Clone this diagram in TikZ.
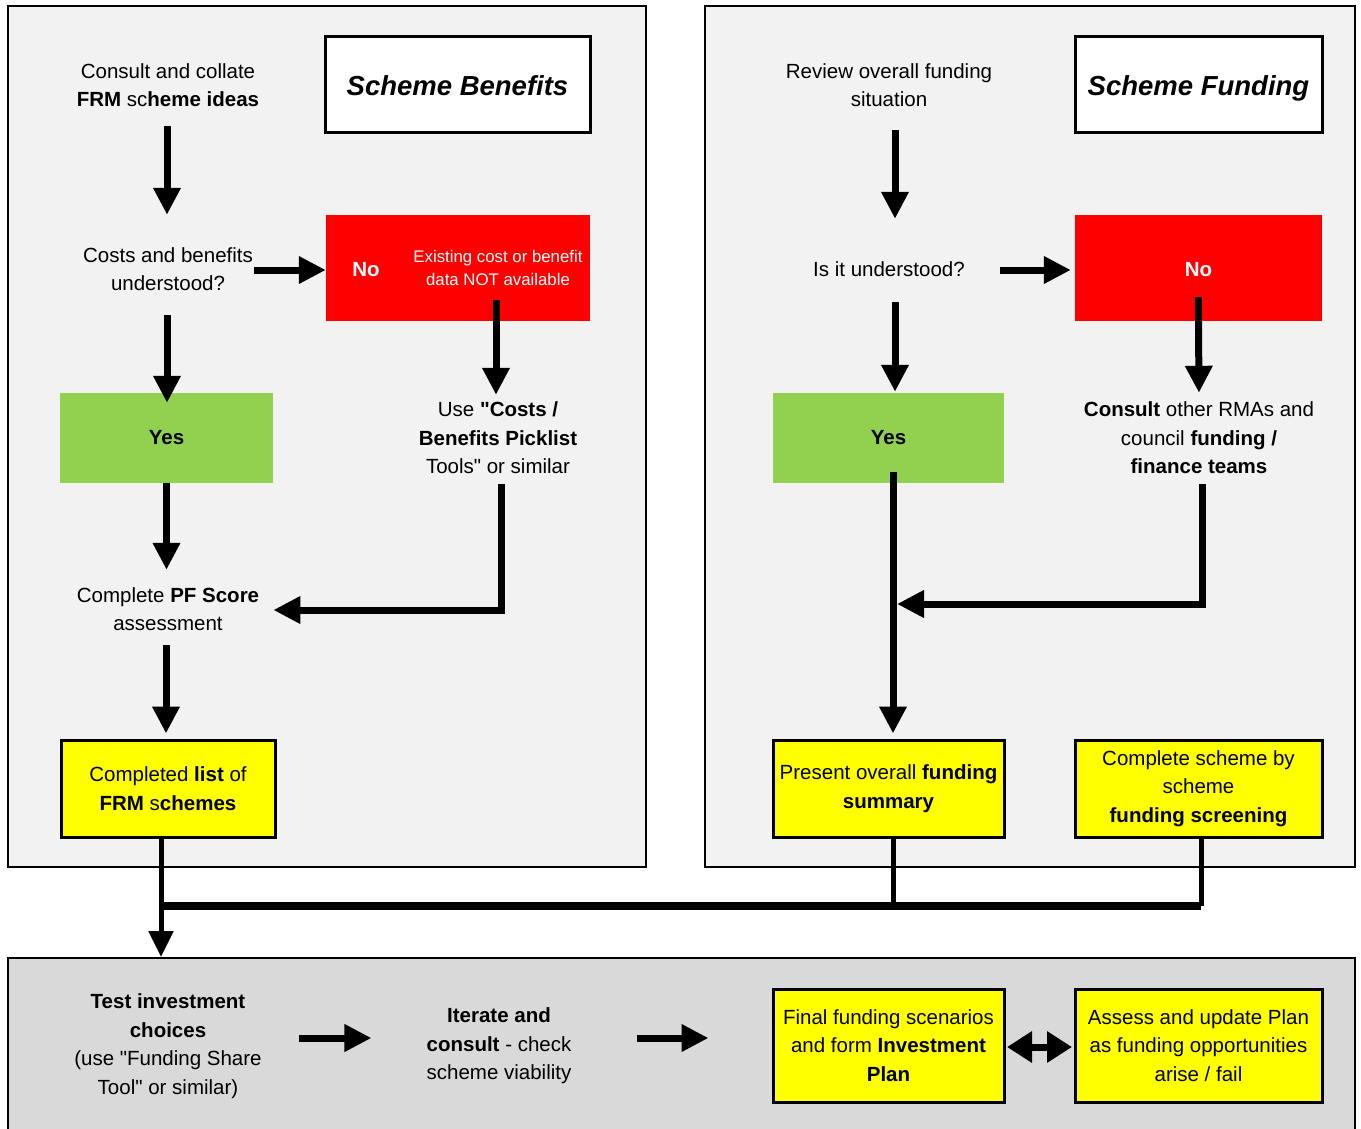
\documentclass[tikz,border=0pt]{standalone}
\usepackage{fontspec}
\setmainfont{Liberation Sans}[Ligatures=TeXOff]
\usetikzlibrary{arrows.meta,calc}
\definecolor{panelA}{HTML}{F2F2F2}
\definecolor{panelB}{HTML}{D9D9D9}
\definecolor{redA}{HTML}{FF0000}
\definecolor{greenA}{HTML}{92D050}
\definecolor{yellowA}{HTML}{FFFF00}
\begin{document}
\begin{tikzpicture}[x=1pt,y=-1pt,
  txt/.style={align=center,font=\fontsize{20.5}{28.5}\selectfont,inner sep=0pt,text=black},
  tone/.style={txt,minimum height=28pt},
  ttwo/.style={txt,minimum height=56pt},
  tthree/.style={txt,minimum height=84pt},
  tfour/.style={txt,minimum height=112pt},
  panelbox/.style={rectangle,draw=black,line width=2pt,inner sep=0pt},
  titlebox/.style={rectangle,draw=black,line width=3pt,fill=white,inner sep=0pt,
     text height=22pt,text depth=0pt,
     font=\fontsize{27.5}{32}\selectfont\bfseries\itshape},
  redbox/.style={rectangle,fill=redA,inner sep=0pt,text=white,
     font=\fontsize{20.5}{28.5}\selectfont\bfseries},
  greenbox/.style={rectangle,fill=greenA,inner sep=0pt,
     font=\fontsize{20.5}{28.5}\selectfont\bfseries},
  yelbox/.style={rectangle,draw=black,line width=3pt,fill=yellowA,inner sep=0pt,
     align=center,font=\fontsize{20.5}{28.5}\selectfont},
  arr/.style={line width=7pt,-{Triangle[length=27pt,width=26pt]}},
  arrthin/.style={line width=5pt,-{Triangle[length=26pt,width=24pt]}},
  darr/.style={line width=7pt,{Triangle[length=25pt,width=30pt]}-{Triangle[length=25pt,width=30pt]}},
  gap/.style 2 args={shorten <=#1,shorten >=#2},
]
\useasboundingbox (0,0) rectangle (1361,1128);
\clip (0,0) rectangle (1361,1128);

% panels
\node[panelbox,fill=panelA,minimum width=638pt,minimum height=861pt] (pL) at (327,436.5) {};
\node[panelbox,fill=panelA,minimum width=650pt,minimum height=861pt] (pR) at (1030,436.5) {};
\node[panelbox,fill=panelB,minimum width=1347pt,minimum height=184pt] (bot) at (681.5,1050) {};

% titles
\node[titlebox,minimum width=265pt,minimum height=96pt] (t1) at (457.5,84) {Scheme Benefits};
\node[titlebox,minimum width=247pt,minimum height=96pt] (t2) at (1198.5,84) {Scheme Funding};

% left panel
\node[ttwo] (c1) at (168,85) {Consult and collate\\\textbf{FRM} sc\textbf{heme ideas}};
\node[ttwo] (q1) at (168,269) {Costs and benefits\\understood?};
\node[redbox,minimum width=264pt,minimum height=106pt] (no1) at (458,268) {};
\node[txt,text=white,font=\fontsize{20.5}{28.5}\selectfont\bfseries] (no1t) at (366,270) {No};
\node[txt,text=white,font=\fontsize{16.8}{23}\selectfont] (ex1) at (498,268) {Existing cost or benefit\\data NOT available};
\node[greenbox,minimum width=213pt,minimum height=90pt] (yes1) at (166.5,438) {Yes};
\node[tthree] (use1) at (498,438) {Use \textbf{"Costs /}\\\textbf{Benefits Picklist}\\Tools" or similar};
\node[ttwo] (pf) at (168,609) {Complete \textbf{PF Score}\\assessment};
\node[yelbox,minimum width=214pt,minimum height=97pt] (list) at (168,788.5) {Completed \textbf{list} of\\\textbf{FRM} s\textbf{chemes}};

% right panel
\node[ttwo] (rv) at (889,85) {Review overall funding\\situation};
\node[tone] (q2) at (889,269) {Is it understood?};
\node[redbox,minimum width=247pt,minimum height=106pt,text height=17pt,text depth=0pt] (no2) at (1198.5,268) {No};
\node[greenbox,minimum width=231pt,minimum height=90pt] (yes2) at (888.5,438) {Yes};
\node[tthree] (cons) at (1199,438) {\textbf{Consult} other RMAs and\\council \textbf{funding /}\\\textbf{finance teams}};
\node[yelbox,minimum width=231pt,minimum height=97pt] (pres) at (888.5,788.5) {Present overall \textbf{funding}\\\textbf{summary}};
\node[yelbox,minimum width=247pt,minimum height=97pt] (scr) at (1198.5,788.5) {Complete scheme by\\scheme\\\textbf{funding screening}};

% bottom panel
\node[tfour] (test) at (168,1046) {\textbf{Test investment}\\\textbf{choices}\\(use "Funding Share\\Tool" or similar)};
\node[tthree] (iter) at (499,1046) {\textbf{Iterate and}\\\textbf{consult} - check\\scheme viability};
\node[yelbox,minimum width=231pt,minimum height=113pt] (fin) at (888.5,1045.5) {Final funding scenarios\\and form \textbf{Investment}\\\textbf{Plan}};
\node[yelbox,minimum width=247pt,minimum height=113pt] (asm) at (1198.5,1045.5) {Assess and update Plan\\as funding opportunities\\arise / fail};

\coordinate (jL) at (161,906);
\coordinate (jR) at (1201,906);
\coordinate (mrg) at (897,604);

% left arrows
\draw[arr,gap={13pt}{26pt}] ([xshift=-1pt]c1.south) -- ([xshift=-1pt]q1.north);
\draw[arr,gap={1pt}{0pt}] ([yshift=-1pt]q1.east) -- ([yshift=-1pt]q1.east -| no1.west);
\draw[arr,gap={18pt}{-10pt}] ([xshift=-1pt]q1.south) -- ([xshift=-1pt]q1.south |- yes1.north);
\draw[arr,gap={-21pt}{1pt}] ([xshift=-2pt]use1.north |- no1.south) -- ([xshift=-2pt]use1.north);
\draw[arr,gap={0pt}{11pt}] (yes1.south) -- (yes1.south |- pf.north);
\draw[arr,gap={4pt}{14pt}] ([xshift=3pt]use1.south) |- ([yshift=-1pt]pf.east);
\draw[arr,gap={8pt}{5pt}] ([xshift=-2pt]pf.south) -- ([xshift=-2pt]pf.south |- list.north);
\draw[arrthin] ([xshift=-7pt]list.south) -- ([xshift=-7pt]list.south |- bot.north);

% junction bar
\draw[line width=8pt] (jL) -- (jR);
\draw[line width=5pt] ([xshift=4.5pt]pres.south) -- ([xshift=4.5pt]pres.south |- jL);
\draw[line width=5pt] ([xshift=2.5pt]scr.south) -- (jR);

% right arrows
\draw[arr,gap={17pt}{36pt}] ([xshift=6pt]rv.south) -- ([xshift=6pt]q2.north);
\draw[arr,gap={35pt}{4pt}] ([yshift=-1pt]q2.east) -- ([yshift=-1pt]q2.east -| no2.west);
\draw[arr,gap={19pt}{1pt}] ([xshift=6pt]q2.south) -- ([xshift=6pt]q2.south |- yes2.north);
\draw[arr,gap={-24pt}{3pt}] (no2.south) -- (cons.north);
\draw[arr,gap={-11pt}{5pt}] ([xshift=4.5pt]yes2.south) -- ([xshift=4.5pt]pres.north);
\draw[arr,gap={4pt}{0pt}] ([xshift=3pt]cons.south) |- (mrg);

% bottom arrows
\draw[arr,gap={37pt}{55pt}] ([yshift=8pt]test.east) -- ([yshift=8pt]test.east -| iter.west);
\draw[arr,gap={65pt}{63pt}] ([yshift=8pt]iter.east) -- ([yshift=8pt]iter.east -| fin.west);
\draw[darr,gap={1.5pt}{1.5pt}] ([yshift=-1.5pt]fin.east) -- ([yshift=-1.5pt]asm.west);
\end{tikzpicture}
\end{document}
